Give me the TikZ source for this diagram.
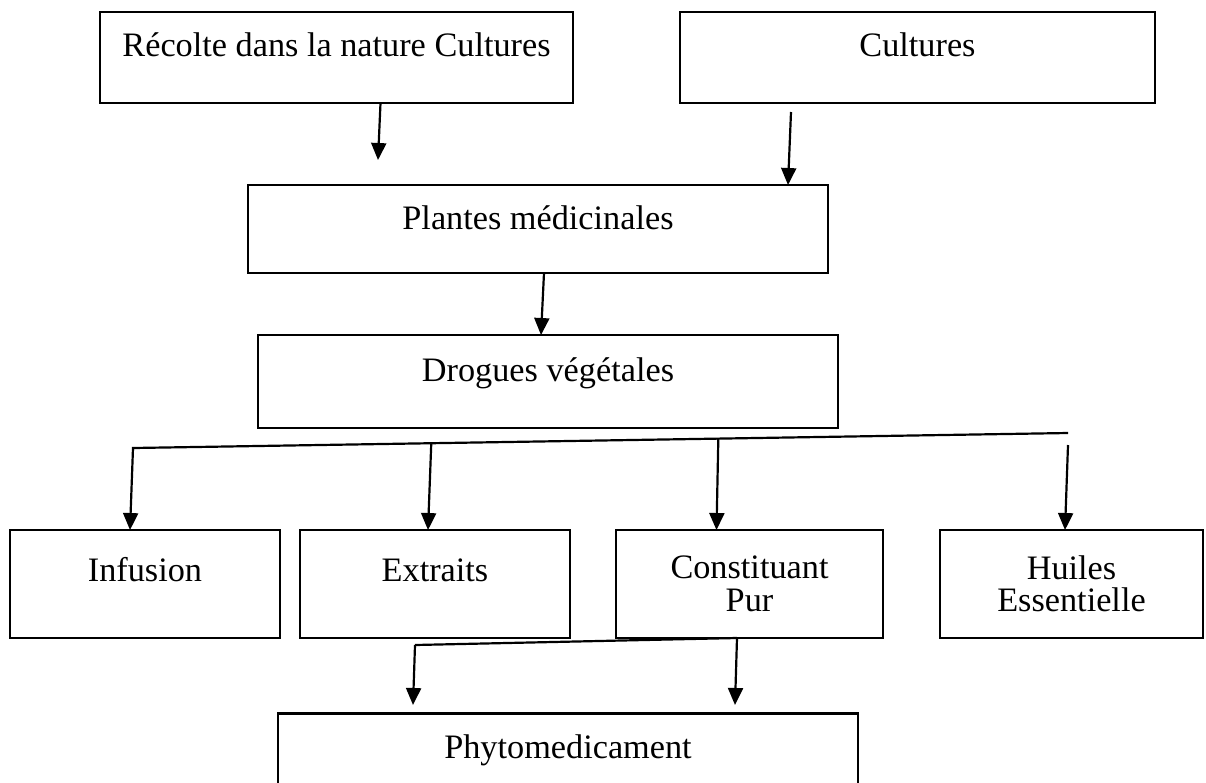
\documentclass[tikz,border=0pt]{standalone}
\usepackage{fontspec}
\setmainfont{Liberation Serif}
\usetikzlibrary{arrows.meta}
\usetikzlibrary{calc}
\tikzstyle{box}=[draw, line width=1.25pt, inner sep=0pt, outer sep=0pt, align=center, font=\fontsize{19.5}{18.5}\selectfont]
\tikzstyle{arr}=[line width=1.25pt, -{Triangle[length=0.34cm, width=0.3cm]}]
\tikzstyle{link}=[line width=1.25pt]

\begin{document}
\begin{tikzpicture}[x=0.02cm, y=-0.02cm]
    \clip (0,0) rectangle (1206,782);
    % boxes
    \node [box, minimum width=9.46cm, text height=0.88cm, text depth=0.94cm] (recolte) at (336.5,57.5) {R\'ecolte dans la nature Cultures};
    \node [box, minimum width=9.5cm, text height=0.88cm, text depth=0.94cm] (cultures) at (917.5,57.5) {Cultures};
    \node [box, minimum width=11.6cm, text height=0.88cm, text depth=0.88cm] (plantes) at (538,229) {Plantes m\'edicinales};
    \node [box, minimum width=11.6cm, text height=0.92cm, text depth=0.94cm] (drogues) at (548,381.5) {Drogues v\'eg\'etales};
    \node [box, minimum width=5.4cm, text height=1.02cm, text depth=1.14cm] (infusion) at (145,584) {Infusion};
    \node [box, minimum width=5.4cm, text height=1.02cm, text depth=1.14cm] (extraits) at (435,584) {Extraits};
    \node [box, minimum width=5.34cm, minimum height=2.16cm] (constituant) at (749.5,584) {Constituant\\Pur};
    \node [box, minimum width=5.26cm, minimum height=2.16cm] (huiles) at (1071.5,584) {Huiles\\Essentielle};
    \node [box, minimum width=11.6cm, text height=0.9cm, text depth=2cm] (phyto) at (568,786) {Phytomedicament};
    % free ends
    \coordinate (tipA) at (378,160);
    \coordinate (startB) at (791,112);
    \coordinate (brL) at (133,448);
    \coordinate (brR) at (1068,433);
    \coordinate (lowL) at (415,645);
    \coordinate (tipL) at (413,705);
    \coordinate (tipR) at (735,705);
    % arrows
    \draw [arr] ($(recolte.south)+(44,0)$) -- (tipA);
    \draw [arr] (startB) -- ($(plantes.north)+(250,0)$);
    \draw [arr] ($(plantes.south)+(6,0)$) -- ($(drogues.north)+(-7,0)$);
    \draw [arr] (brR) -- (brL) -- ($(infusion.north)+(-15,0)$);
    \draw [arr] ($(brL)!0.319!(brR)$) -- ($(extraits.north)+(-7,0)$);
    \draw [arr] ($(brL)!0.626!(brR)$) -- ($(constituant.north)+(-33,0)$);
    \draw [arr] ($(brR)+(0,12)$) -- ($(huiles.north)+(-6.5,0)$);
    \draw [link] ($(constituant.south)+(-12.5,0)$) -- (lowL);
    \draw [arr] (lowL) -- (tipL);
    \draw [arr] ($(constituant.south)+(-12.5,0)$) -- (tipR);
\end{tikzpicture}
\end{document}
